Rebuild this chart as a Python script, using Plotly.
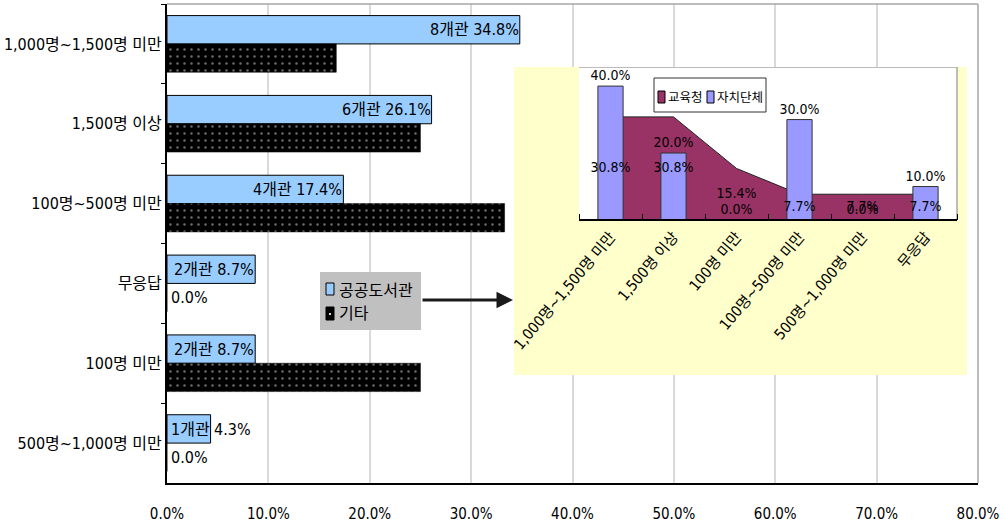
import plotly.graph_objects as go

# ---------------- data ----------------
categories = ["1,000명~1,500명 미만", "1,500명 이상", "100명~500명 미만",
              "무응답", "100명 미만", "500명~1,000명 미만"]
library_counts = [8, 6, 4, 2, 2, 1]
library_pct = [34.8, 26.1, 17.4, 8.7, 8.7, 4.3]
other_pct = [16.7, 25.0, 33.3, 0.0, 25.0, 0.0]
main_series_names = ["공공도서관", "기타"]

inset_categories = ["1,000명~1,500명 미만", "1,500명 이상", "100명 미만",
                    "100명~500명 미만", "500명~1,000명 미만", "무응답"]
edu_office_pct = [30.8, 30.8, 15.4, 7.7, 7.7, 7.7]
local_gov_pct = [40.0, 20.0, 0.0, 30.0, 0.0, 10.0]
inset_series_names = ["교육청", "자치단체"]

x_tick_vals = [0, 10, 20, 30, 40, 50, 60, 70, 80]
x_tick_text = [f"{v:.1f}%" for v in x_tick_vals]

# ---------------- style ----------------
W, H = 1004, 526
ML, MR, MT, MB = 167, 26, 4, 43
FONT = "Liberation Sans Narrow, DejaVu Sans Condensed, Noto Sans CJK KR, sans-serif"
BLUE = "#99CCFF"
LAVENDER = "#9999FF"
MAROON = "#993366"
YELLOW = "#FFFFCC"
LEG_GRAY = "#C0C0C0"

pw = W - ML - MR
ph = H - MT - MB


def px_x(p):  # pixel -> paper x
    return (p - ML) / pw


def px_y(p):  # pixel -> paper y
    return (H - MB - p) / ph


# inset geometry (pixels): yellow panel and inner plot area
YEL_L, YEL_R, YEL_T, YEL_B = 514, 967, 67, 375
IN_L, IN_R, IN_T, IN_B = 579, 957, 67, 220
INSET_Y_MAX = 45.7
n_cat = len(inset_categories)
unit_px = (IN_R - IN_L) / n_cat
y_per_px = INSET_Y_MAX / (IN_B - IN_T)
x2_range = [-0.5 - (IN_L - YEL_L) / unit_px, n_cat - 0.5 + (YEL_R - IN_R) / unit_px]
y2_range = [-(YEL_B - IN_B) * y_per_px, INSET_Y_MAX]

fig = go.Figure()

fig.add_trace(go.Bar(
    x=library_pct, y=categories, orientation="h", name=main_series_names[0],
    marker=dict(color=BLUE, line=dict(color="black", width=1)),
    xaxis="x", yaxis="y", hoverinfo="skip", showlegend=False,
))
fig.add_trace(go.Bar(
    x=other_pct, y=categories, orientation="h", name=main_series_names[1],
    marker=dict(color="black", line=dict(color="black", width=0.5),
                pattern=dict(shape=".", fgcolor="#d8d8d8", bgcolor="black",
                             size=7, solidity=0.1, fillmode="overlay")),
    xaxis="x", yaxis="y", hoverinfo="skip", showlegend=False,
))

# inset: area (교육청)
fig.add_trace(go.Scatter(
    x=inset_categories, y=edu_office_pct, mode="lines", name=inset_series_names[0],
    fill="tozeroy", fillcolor=MAROON, line=dict(color="#222222", width=1),
    xaxis="x2", yaxis="y2", hoverinfo="skip", showlegend=False,
))
# inset: bars (자치단체) on an overlaying axis so they sit above the area
fig.add_trace(go.Bar(
    x=inset_categories, y=local_gov_pct, name=inset_series_names[1], width=0.4,
    marker=dict(color=LAVENDER, line=dict(color="#333333", width=1)),
    text=[f"{v:.1f}%" for v in local_gov_pct], textposition="outside",
    constraintext="none",
    textfont=dict(family=FONT, size=14, color="black"), cliponaxis=False,
    xaxis="x2", yaxis="y3", hoverinfo="skip", showlegend=False,
))
# inset: area value labels at mid height
fig.add_trace(go.Scatter(
    x=inset_categories, y=[v / 2 for v in edu_office_pct], mode="text",
    text=[f"{v:.1f}%" for v in edu_office_pct],
    textfont=dict(family=FONT, size=14, color="black"),
    xaxis="x2", yaxis="y3", showlegend=False, hoverinfo="skip", cliponaxis=False,
))

LBL = dict(family=FONT, size=16, color="black")
annotations = []
for cat, n, v in zip(categories, library_counts, library_pct):
    if v < 6:
        annotations.append(dict(x=v, y=cat, xref="x", yref="y", text=f"{n}개관",
                                showarrow=False, xanchor="right", yshift=14, xshift=1,
                                font=LBL))
        annotations.append(dict(x=v, y=cat, xref="x", yref="y", text=f"{v:.1f}%",
                                showarrow=False, xanchor="left", yshift=14, xshift=1,
                                font=LBL))
    else:
        annotations.append(dict(x=v, y=cat, xref="x", yref="y", text=f"{n}개관 {v:.1f}%",
                                showarrow=False, xanchor="right", yshift=14, xshift=1,
                                font=LBL))
for cat, v in zip(categories, other_pct):
    if v == 0:
        annotations.append(dict(x=v, y=cat, xref="x", yref="y", text=f"{v:.1f}%",
                                showarrow=False, xanchor="left", yshift=-14, xshift=2,
                                font=LBL))

# arrow from legend to inset
annotations.append(dict(
    x=px_x(513), y=px_y(300), xref="paper", yref="paper",
    ax=-92, ay=0, axref="pixel", ayref="pixel", text="", showarrow=True,
    arrowhead=2, arrowsize=1.1, arrowwidth=3, arrowcolor="#1a1a1a",
))

# manual legend texts
annotations += [
    dict(x=px_x(337), y=px_y(290), xref="paper", yref="paper", text=main_series_names[0],
         showarrow=False, xanchor="left", yanchor="middle",
         font=dict(family=FONT, size=16, color="black")),
    dict(x=px_x(337), y=px_y(314), xref="paper", yref="paper", text=main_series_names[1],
         showarrow=False, xanchor="left", yanchor="middle",
         font=dict(family=FONT, size=16, color="black")),
    dict(x=px_x(666), y=px_y(97), xref="paper", yref="paper", text=inset_series_names[0],
         showarrow=False, xanchor="left", yanchor="middle",
         font=dict(family=FONT, size=12.5, color="black")),
    dict(x=px_x(715), y=px_y(97), xref="paper", yref="paper", text=inset_series_names[1],
         showarrow=False, xanchor="left", yanchor="middle",
         font=dict(family=FONT, size=12.5, color="black")),
]

shapes = [
    # main plot area top/right border
    dict(type="line", xref="paper", yref="paper", x0=0, x1=1, y0=1, y1=1,
         line=dict(color="#a6a6a6", width=1.5)),
    dict(type="line", xref="paper", yref="paper", x0=1, x1=1, y0=0, y1=1,
         line=dict(color="#a6a6a6", width=1.5)),
    # inset yellow panel (fills the x2/y2 subplot)
    dict(type="rect", xref="x2", yref="y2", layer="below",
         x0=x2_range[0], x1=x2_range[1], y0=y2_range[0], y1=y2_range[1],
         fillcolor=YELLOW, line=dict(width=0)),
    # inset white plot area
    dict(type="rect", xref="x2", yref="y2", layer="below",
         x0=-0.5, x1=n_cat - 0.5, y0=0, y1=INSET_Y_MAX,
         fillcolor="white", line=dict(width=0)),
    dict(type="line", xref="x2", yref="y2", layer="below",
         x0=-0.5, x1=n_cat - 0.5, y0=INSET_Y_MAX, y1=INSET_Y_MAX,
         line=dict(color="#a6a6a6", width=1.5)),
    dict(type="line", xref="x2", yref="y2", layer="below",
         x0=n_cat - 0.5, x1=n_cat - 0.5, y0=0, y1=INSET_Y_MAX,
         line=dict(color="#a6a6a6", width=1.5)),
    # inset baseline
    dict(type="line", xref="x2", yref="y2", layer="above",
         x0=-0.5, x1=n_cat - 0.5, y0=0, y1=0, line=dict(color="black", width=2)),
    # main legend box and swatches
    dict(type="rect", xref="paper", yref="paper", layer="above",
         x0=px_x(320), x1=px_x(421), y0=px_y(330), y1=px_y(272),
         fillcolor=LEG_GRAY, line=dict(width=0)),
    dict(type="rect", xref="paper", yref="paper", layer="above",
         x0=px_x(326), x1=px_x(334), y0=px_y(295), y1=px_y(283),
         fillcolor=BLUE, line=dict(color="black", width=1)),
    dict(type="rect", xref="paper", yref="paper", layer="above",
         x0=px_x(326), x1=px_x(334), y0=px_y(320), y1=px_y(307),
         fillcolor="black", line=dict(color="black", width=1)),
    dict(type="rect", xref="paper", yref="paper", layer="above",
         x0=px_x(329), x1=px_x(331), y0=px_y(315), y1=px_y(313),
         fillcolor="#d8d8d8", line=dict(width=0)),
    # inset legend box and swatches
    dict(type="rect", xref="paper", yref="paper", layer="above",
         x0=px_x(654), x1=px_x(766), y0=px_y(112), y1=px_y(78),
         fillcolor="white", line=dict(color="#333333", width=1)),
    dict(type="rect", xref="paper", yref="paper", layer="above",
         x0=px_x(658), x1=px_x(665), y0=px_y(103), y1=px_y(91),
         fillcolor=MAROON, line=dict(color="black", width=1)),
    dict(type="rect", xref="paper", yref="paper", layer="above",
         x0=px_x(707), x1=px_x(714), y0=px_y(103), y1=px_y(91),
         fillcolor=LAVENDER, line=dict(color="black", width=1)),
]

fig.update_layout(
    width=W, height=H,
    margin=dict(l=ML, r=MR, t=MT, b=MB, pad=0, autoexpand=False),
    paper_bgcolor="white", plot_bgcolor="white",
    font=dict(family=FONT, size=15, color="black"),
    barmode="group", bargap=0.29, bargroupgap=0,
    showlegend=False,
    xaxis=dict(domain=[0, 1], anchor="y", range=[0, 80], tickvals=x_tick_vals,
               ticktext=x_tick_text, showgrid=True, automargin=False,
               gridcolor="#d9d9d9", gridwidth=2, showline=True, linecolor="black",
               linewidth=2, ticks="", ticklabelstandoff=16, zeroline=False,
               tickfont=dict(family=FONT, size=15)),
    yaxis=dict(domain=[0, 1], anchor="x", type="category", automargin=False,
               categoryorder="array", categoryarray=categories,
               range=[len(categories) - 0.5, -0.5], showline=True,
               linecolor="black", linewidth=2, ticks="outside", tickson="boundaries",
               ticklen=4, tickcolor="black", tickwidth=1, showgrid=False,
               tickfont=dict(family=FONT, size=16)),
    xaxis2=dict(domain=[px_x(YEL_L), px_x(YEL_R)], anchor="free", position=px_y(IN_B),
                type="category", categoryorder="array", categoryarray=inset_categories,
                range=x2_range, showline=False, automargin=False,
                ticks="inside", tickson="boundaries", ticklen=6,
                tickcolor="black", showgrid=False, tickangle=-50, ticklabelstandoff=4,
                tickfont=dict(family=FONT, size=15)),
    yaxis2=dict(domain=[px_y(YEL_B), px_y(YEL_T)], anchor="x2", automargin=False,
                range=y2_range, visible=False),
    yaxis3=dict(overlaying="y2", anchor="x2", range=y2_range, visible=False,
                automargin=False),
    shapes=shapes,
    annotations=annotations,
)

fig.write_html("out.html")
